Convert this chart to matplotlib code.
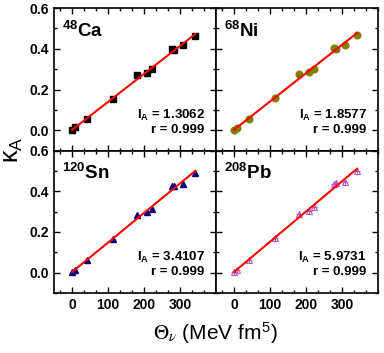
import numpy as np
import matplotlib
matplotlib.use("Agg")
import matplotlib.pyplot as plt
from matplotlib.ticker import AutoMinorLocator, MultipleLocator, FormatStrFormatter

plt.rcParams['font.family'] = ['Liberation Sans', 'DejaVu Sans']
plt.rcParams['mathtext.fontset'] = 'custom'
plt.rcParams['mathtext.rm'] = 'Liberation Sans'
plt.rcParams['mathtext.it'] = 'Liberation Sans'
plt.rcParams['mathtext.bf'] = 'Liberation Sans:bold'

# data
theta_v = [1, 8, 41, 115, 180, 209, 223, 277, 284, 308, 342]
kappa_ca = [0.000, 0.015, 0.057, 0.154, 0.270, 0.282, 0.300, 0.400, 0.393, 0.418, 0.465]
kappa_ni = [0.003, 0.011, 0.056, 0.157, 0.275, 0.285, 0.302, 0.405, 0.400, 0.421, 0.470]
kappa_sn = [0.003, 0.015, 0.060, 0.167, 0.285, 0.297, 0.315, 0.425, 0.425, 0.438, 0.490]
kappa_pb = [0.003, 0.015, 0.060, 0.172, 0.290, 0.303, 0.323, 0.435, 0.440, 0.446, 0.498]

mass_num = ['48', '68', '120', '208']
elements = ['Ca', 'Ni', 'Sn', 'Pb']
i_a = ['1.3062', '1.8577', '3.4107', '5.9731']
r_val = ['0.999', '0.999', '0.999', '0.999']


def draw_panel(ax, y, style, mass, elem, ia, r):
    ax.plot(theta_v, y, linestyle='none', **style)
    if style.get('markerfacecolor') == 'none':
        ax.plot(theta_v, y, linestyle='none', marker='+', color=style['markeredgecolor'],
                markersize=4.5, markeredgewidth=0.8)
    k, b = np.polyfit(theta_v, y, 1)
    xs = np.array([0, max(theta_v)])
    ax.plot(xs, k * xs + b, color='red', lw=1.5, zorder=3)

    ax.text(0.05, 0.80, r'$\mathbf{^{%s}}$' % mass + elem, transform=ax.transAxes,
            fontsize=13.5, fontweight='bold', va='baseline', ha='left')
    ax.text(0.93, 0.225, r'$\mathbf{I_A}$ = ' + ia, transform=ax.transAxes,
            fontsize=9.5, fontweight='bold', ha='right', va='baseline')
    ax.text(0.93, 0.125, 'r = ' + r, transform=ax.transAxes,
            fontsize=9.5, fontweight='bold', ha='right', va='baseline')


fig, axes = plt.subplots(2, 2, figsize=(3.84, 3.53), dpi=100, sharex=True, sharey=True)
fig.subplots_adjust(left=0.141, right=0.984, bottom=0.170, top=0.977, wspace=0, hspace=0)

styles = [
    dict(marker='s', color='black', markersize=4),
    dict(marker='o', color='#808000', markersize=4.8),
    dict(marker='^', color='#000080', markersize=5),
    dict(marker='^', markerfacecolor='none', markeredgecolor='#B45AC8', markersize=5,
         markeredgewidth=0.8),
]
ys = [kappa_ca, kappa_ni, kappa_sn, kappa_pb]

for ax, y, st, m, el, ia, r in zip(axes.flat, ys, styles, mass_num, elements, i_a, r_val):
    draw_panel(ax, y, st, m, el, ia, r)
    ax.set_xlim(-50, 400)
    ax.set_ylim(-0.1, 0.6)
    ax.set_xticks([0, 100, 200, 300])
    ax.set_yticks([0.0, 0.2, 0.4, 0.6])
    ax.xaxis.set_minor_locator(MultipleLocator(100 / 3))
    ax.yaxis.set_minor_locator(AutoMinorLocator(2))
    ax.tick_params(which='both', direction='in', top=True, right=True, width=1)
    ax.tick_params(which='major', length=4, labelsize=10)
    ax.tick_params(which='minor', length=2.5)
    for lab in ax.get_xticklabels() + ax.get_yticklabels():
        lab.set_fontweight('bold')
    for sp in ax.spines.values():
        sp.set_linewidth(1.2)

for ax in axes[:, 0]:
    ax.yaxis.set_major_formatter(FormatStrFormatter('%.1f'))

fig.text(0.035, 0.575, r'$\kappa_\mathregular{A}$', fontsize=18, rotation=90,
         ha='center', va='center')
fig.text(0.56, 0.057, r'$\Theta_\nu$' + r' (MeV fm$^\mathregular{5}$)', fontsize=15,
         ha='center', va='center', math_fontfamily='stix')

fig.savefig('out.png', dpi=100)
